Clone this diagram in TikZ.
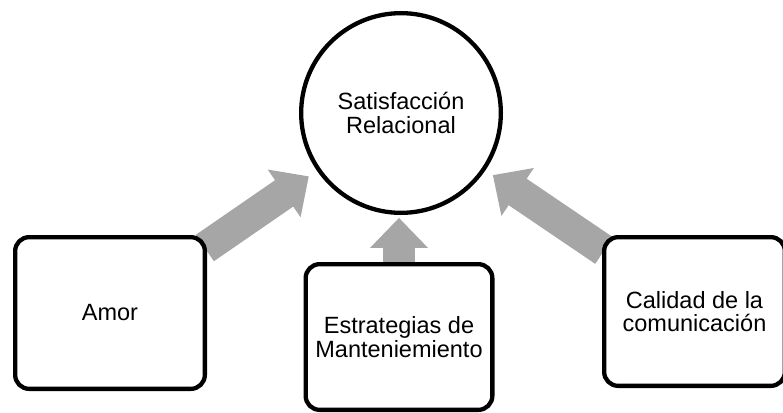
\documentclass[tikz,border=0pt]{standalone}
\usepackage{fontspec}
\setmainfont{Liberation Sans}
\usetikzlibrary{arrows.meta,backgrounds}
\definecolor{arrowgray}{RGB}{166,166,166}

\begin{document}
\begin{tikzpicture}[x=1pt, y=-1pt,
  caja/.style={draw, fill=white, line width=4.3pt, rounded corners=14pt, align=center, inner sep=0pt, outer sep=0pt, font=\fontsize{23.5}{23.5}\selectfont},
  circulo/.style={draw, fill=white, shape=circle, line width=4.3pt, align=center, inner sep=0pt, outer sep=0pt, minimum size=199.7pt, font=\fontsize{23.5}{23.5}\selectfont},
  flecha/.style={arrowgray, line width=32pt, -{Triangle[length=30pt, width=56pt]}}]

\useasboundingbox (0,0) rectangle (783,412);
\clip (0,0) rectangle (783,412);

\node[circulo] (sat) at (401,113) {Satisfacción\\Relacional};
\node[caja, minimum width=189.7pt, minimum height=151.7pt] (amor) at (110,313) {Amor};
\node[caja, minimum width=186.7pt, minimum height=145.7pt] (strat) at (399,337) {Estrategias de\\Manteniemiento};
\node[caja, minimum width=180.7pt, minimum height=148.7pt] (calidad) at (694.5,311.5) {Calidad de la\\comunicación};

\begin{scope}[on background layer]
\draw[flecha, shorten >=12pt] (amor) -- (sat);
\draw[flecha, shorten >=5pt] (strat) -- (strat |- sat.south);
\draw[flecha, shorten >=11pt] (calidad) -- (sat);
\end{scope}
\end{tikzpicture}
\end{document}
